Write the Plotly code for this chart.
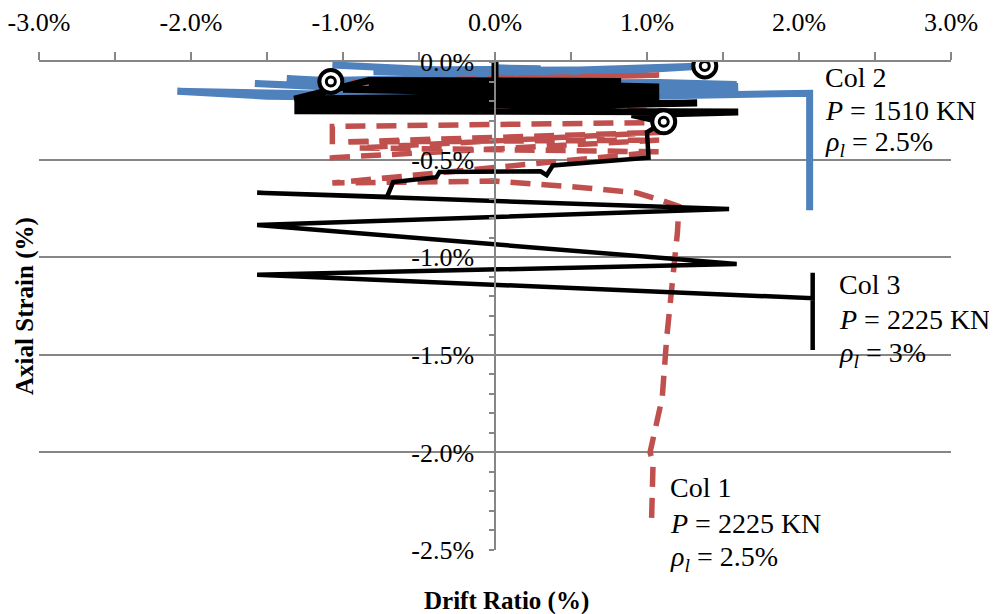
import plotly.graph_objects as go

# ---------------- data (percent) ----------------
# Col 2 (blue)
col2_x = [0, 0.3, -0.3, 0.6, -0.6, 0.9, -0.8, 0, 1.05, 0, -1.07, 0, 1.38, 0.3, -1.08, -0.2,
          1.08, 1.59, 0, -1.37, 0, 1.6, 0, -1.58, 0, 1.6, 0, -2.09, -1.5, 0, 2.07, 2.07]
col2_y = [-0.03, -0.035, -0.04, -0.04, -0.045, -0.04, -0.05, -0.05, -0.035, -0.055, -0.015, -0.055, -0.02,
          -0.07, -0.095, -0.11, -0.105, -0.115, -0.14, -0.085, -0.15, -0.125, -0.16, -0.11, -0.17,
          -0.13, -0.18, -0.15, -0.175, -0.19, -0.16, -0.76]

# Col 1 (red dashed)
col1_x = [0, 0.5, -0.5, 1.08, -0.94, 1.05, -1.0, 1.08, 1.1, -1.07, -1.07, 1.08, -1.0, 1.1, -0.9,
          1.08, -1.07, 0.0, 0.6, 0.93, 1.10, 1.21, 1.20, 1.17, 1.13, 1.10, 1.02, 1.04, 1.03]
col1_y = [-0.08, -0.085, -0.1, -0.067, -0.1, -0.13, -0.2, -0.25, -0.31, -0.33, -0.49, -0.40, -0.41,
          -0.36, -0.44, -0.46, -0.62, -0.61, -0.645, -0.67, -0.71, -0.74, -0.875, -1.10, -1.41,
          -1.72, -2.0, -2.05, -2.35]

# Col 3 (black) - early cycles
col3a_x = [0, 0, 0.45, -0.45, 0.83, -0.83, 1.08, -0.83, 1.08, -1.0, 1.08, -1.32, -0.83, 1.08,
           -1.32, 1.08, -1.32, 1.33, -1.32, 1.6, 0.9, 1.11]
col3a_y = [0, -0.1, -0.1, -0.105, -0.1, -0.095, -0.128, -0.11, -0.15, -0.14, -0.17, -0.19, -0.095,
           -0.185, -0.21, -0.2, -0.23, -0.21, -0.25, -0.256, -0.27, -0.306]
# Col 3 (black) - later cycles
col3b_x = [1.11, 1.06, 1.0, 1.01, 0.38, 0.34, 0.30, -0.365, -0.385, -0.67, -0.71, -1.565, 1.54,
           -1.565, 1.59, -1.565, 0.0, 2.09, 2.09, 2.09]
col3b_y = [-0.306, -0.33, -0.36, -0.49, -0.53, -0.58, -0.56, -0.563, -0.59, -0.615, -0.69, -0.67,
           -0.753, -0.835, -1.035, -1.09, -1.14, -1.21, -1.08, -1.475]

# highlighted points
mark_x = [1.38, -1.08, 1.11]
mark_y = [-0.02, -0.10, -0.306]

X_RANGE = [-3, 3]
Y_RANGE = [-2.5, 0]
x_ticks = [-3, -2, -1, 0, 1, 2, 3]
x_labels = ["-3.0%", "-2.0%", "-1.0%", "0.0%", "1.0%", "2.0%", "3.0%"]
y_ticks = [0, -0.5, -1.0, -1.5, -2.0, -2.5]
y_labels = ["0.0%", "-0.5%", "-1.0%", "-1.5%", "-2.0%", "-2.5%"]

# text blocks: (x, [y of each line], [lines]) in data units
notes = [
    (2.161, [-0.077, -0.246, -0.415], ["Col 2", "<i>P</i> = 1510 KN", "<i>ρ</i><sub><i>l</i></sub> = 2.5%"]),
    (2.247, [-1.142, -1.317, -1.501], ["Col 3", "<i>P</i> = 2225 KN", "<i>ρ</i><sub><i>l</i></sub> = 3%"]),
    (1.135, [-2.182, -2.362, -2.541], ["Col 1", "<i>P</i> = 2225 KN", "<i>ρ</i><sub><i>l</i></sub> = 2.5%"]),
]

# ---------------- figure ----------------
FONT = "Liberation Serif"
GRID = "#868686"

fig = go.Figure()
fig.add_trace(go.Scatter(x=col2_x, y=col2_y, mode="lines",
                         line=dict(color="#4F81BD", width=7), name="Col 2"))
fig.add_trace(go.Scatter(x=col1_x, y=col1_y, mode="lines",
                         line=dict(color="#C0504D", width=5.5, dash="20px,11px"), name="Col 1"))
fig.add_trace(go.Scatter(x=col3a_x, y=col3a_y, mode="lines",
                         line=dict(color="black", width=7), name="Col 3"))
fig.add_trace(go.Scatter(x=col3b_x, y=col3b_y, mode="lines",
                         line=dict(color="black", width=4.5), name="Col 3b"))
fig.add_trace(go.Scatter(x=mark_x, y=mark_y, mode="markers",
                         marker=dict(size=23, color="white", line=dict(color="black", width=4))))
fig.add_trace(go.Scatter(x=mark_x, y=mark_y, mode="markers",
                         marker=dict(size=9, color="white", line=dict(color="black", width=3))))

fig.update_layout(
    width=989, height=606,
    margin=dict(l=31, r=46, t=54, b=64, autoexpand=False),
    paper_bgcolor="white", plot_bgcolor="white",
    showlegend=False,
    font=dict(family=FONT, color="black", size=26),
    xaxis=dict(range=X_RANGE, side="top", anchor="y", automargin=False,
               tickvals=x_ticks, ticktext=x_labels, ticklabeloverflow="allow",
               showline=True, linecolor=GRID, linewidth=1.5,
               ticks="outside", ticklen=8, tickwidth=1.5, tickcolor=GRID,
               minor=dict(dtick=0.5, tick0=0, ticks="outside", ticklen=8, tickwidth=1.5,
                          tickcolor=GRID, showgrid=False),
               showgrid=False, zeroline=False,
               tickfont=dict(family=FONT, size=26, color="black"),
               ticklabelstandoff=11),
    yaxis=dict(range=Y_RANGE, anchor="free", position=0.5, automargin=False,
               tickvals=y_ticks, ticktext=y_labels, ticklabeloverflow="allow",
               showline=True, linecolor=GRID, linewidth=1.5,
               ticks="outside", ticklen=5, tickwidth=1.5, tickcolor=GRID,
               minor=dict(dtick=0.1, tick0=0, ticks="outside", ticklen=5, tickwidth=1.5,
                          tickcolor=GRID, showgrid=False),
               showgrid=True, gridcolor=GRID, gridwidth=1.5, zeroline=False,
               tickfont=dict(family=FONT, size=26, color="black"),
               ticklabelstandoff=10),
)

ann_font = dict(family=FONT, size=28, color="black")
for nx, ys, lines in notes:
    px = (nx - X_RANGE[0]) / (X_RANGE[1] - X_RANGE[0])
    for ny, txt in zip(ys, lines):
        py = (ny - Y_RANGE[0]) / (Y_RANGE[1] - Y_RANGE[0])
        fig.add_annotation(x=px, y=py, xref="paper", yref="paper", xanchor="left", yanchor="middle",
                           align="left", showarrow=False, font=ann_font, text=txt)

fig.add_annotation(x=-0.0154, y=0.5, xref="paper", yref="paper", xanchor="center", yanchor="middle",
                   textangle=-90, showarrow=False,
                   font=dict(family=FONT, size=25, color="black"),
                   text="<b>Axial Strain (%)</b>")
fig.add_annotation(x=0.513, y=-0.1045, xref="paper", yref="paper", xanchor="center", yanchor="middle",
                   showarrow=False,
                   font=dict(family=FONT, size=25, color="black"),
                   text="<b>Drift Ratio (%)</b>")

fig.write_html("out.html")
